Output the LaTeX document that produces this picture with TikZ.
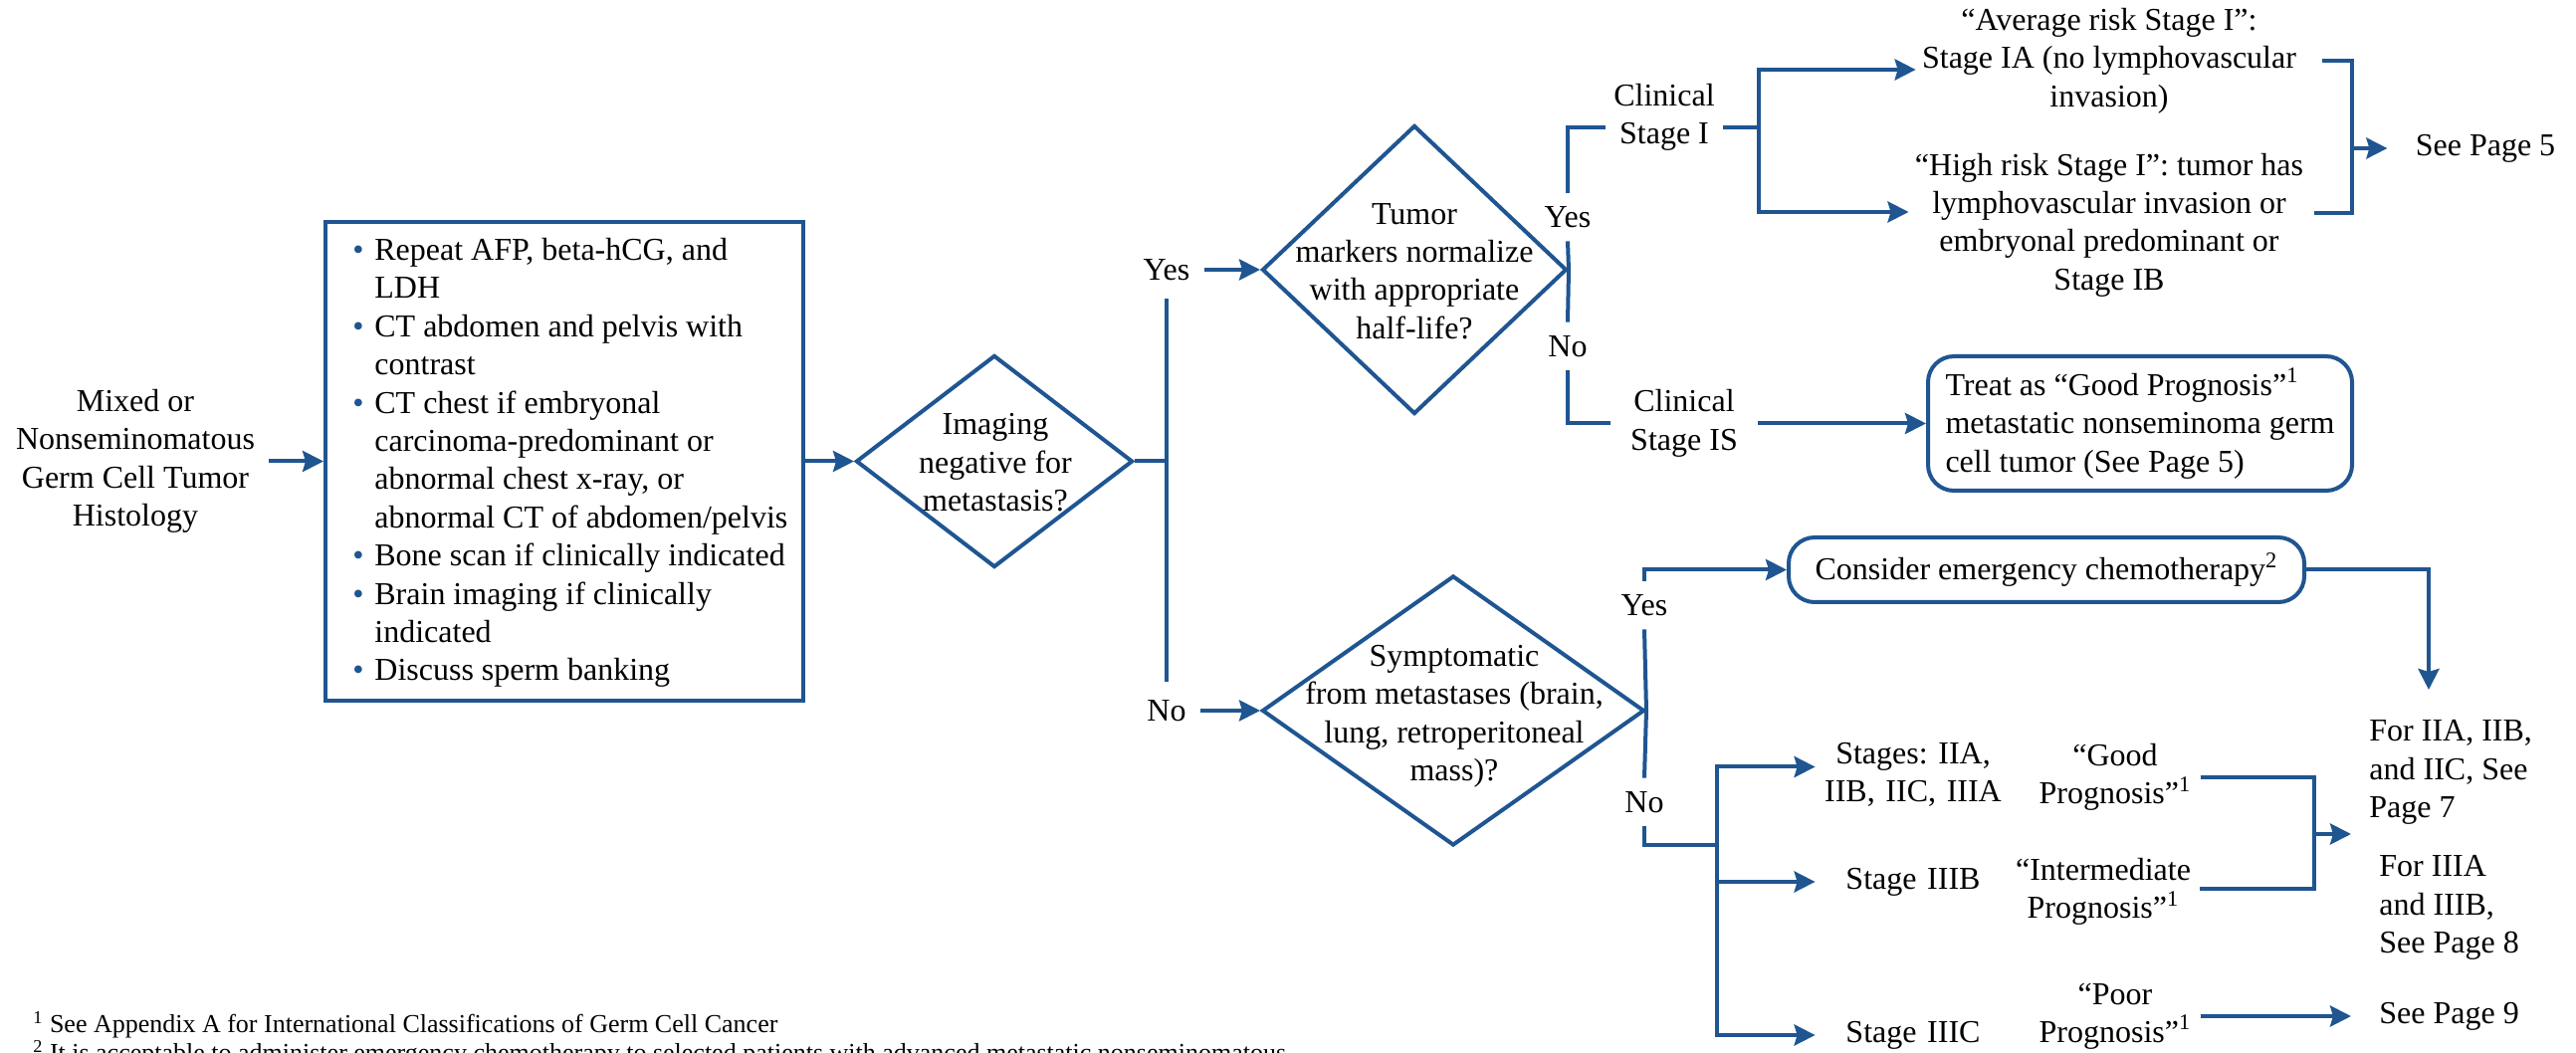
\documentclass[tikz,border=0pt]{standalone}
\usepackage{fontspec}
\setmainfont{Liberation Serif}
\usetikzlibrary{arrows.meta,shapes.geometric,calc}
\definecolor{nccn}{HTML}{1F5591}
\frenchspacing
\newcommand\mainsize{\fontsize{16}{19.2}\selectfont}
\newcommand\notesize{\fontsize{13}{14.5}\selectfont}
\newcommand\blt{\makebox[11pt][l]{\textcolor{nccn}{•}}}

\begin{document}
\begin{tikzpicture}[x=0.5pt,y=-0.5pt,
  ln/.style={draw=nccn, line width=2pt},
  arr/.style={ln, -{Stealth[length=10.5pt,width=10.5pt,inset=1.5pt]}},
  txt/.style={align=center, font=\mainsize, inner sep=0pt},
  flag/.style={txt, minimum height=24pt, inner xsep=7pt},
  flagtall/.style={flag, minimum height=29pt},
  dia/.style={diamond, draw=nccn, line width=2pt, inner sep=0pt},
  sqbox/.style={rectangle, draw=nccn, line width=2pt, inner sep=0pt},
  rbox/.style={rectangle, rounded corners=13pt, draw=nccn, line width=2pt,
    font=\mainsize, align=left, inner sep=0pt},
  stagetxt/.style={txt, text width=98pt},
  pagetxt/.style={anchor=west, align=left, font=\mainsize, inner ysep=0pt},
  note/.style={anchor=base west, inner sep=0pt, font=\notesize},
]
\useasboundingbox (0,0) rectangle (2588,1058);
\fill[white] (0,0) rectangle (2588,1058);

% ---- entry and work-up ----
\node[txt, inner xsep=7pt] (start) at (136,463.5)
  {Mixed or\\Nonseminomatous\\Germ Cell Tumor\\Histology};
\node[sqbox, minimum width=240pt, minimum height=240.5pt] (workup) at (567,463.5) {};
\node[anchor=west, inner sep=0pt, font=\mainsize] (worklist) at (354,465) {%
\begin{minipage}{230pt}
\parindent=0pt\parskip=0pt
\hangindent=11pt\hangafter=1\blt Repeat AFP, beta-hCG, and\\LDH\par
\hangindent=11pt\hangafter=1\blt CT abdomen and pelvis with\\contrast\par
\hangindent=11pt\hangafter=1\blt CT chest if embryonal\\carcinoma-predominant or\\abnormal chest x-ray, or\\abnormal CT of abdomen/pelvis\par
\hangindent=11pt\hangafter=1\blt Bone scan if clinically indicated\par
\hangindent=11pt\hangafter=1\blt Brain imaging if clinically\\indicated\par
\hangindent=11pt\hangafter=1\blt Discuss sperm banking\par
\end{minipage}};
\draw[arr] (start.east) -- (workup.west);

% ---- imaging decision ----
\node[dia, minimum width=139pt, minimum height=106.5pt] (imaging) at (999,463.5) {};
\node[txt] (imagingq) at (1000,465) {Imaging\\negative for\\metastasis?};
\draw[arr] (workup.east) -- (imaging.west);

\node[flagtall] (yes1) at (1172,271) {Yes};
\node[flagtall] (no1) at (1172,714) {No};
\coordinate (split1) at (1172,463.5);
\draw[ln] (imaging.east) -- (split1);
\draw[ln] (yes1.south) -- (no1.north);

% ---- tumor marker decision ----
\node[dia, minimum width=153pt, minimum height=145pt] (tumor) at (1421,271) {};
\node[txt] (tumorq) at (1421,272.5) {Tumor\\markers normalize\\with appropriate\\half-life?};
\draw[arr] (yes1.east) -- (tumor.west);

\node[flag] (yes2) at (1575,218) {Yes};
\node[flag] (no2) at (1575,348) {No};
\draw[ln] (tumor.east) -- (yes2.south);
\draw[ln] (tumor.east) -- (no2.north);

\node[txt, inner xsep=4pt] (cs1) at (1672,118) {Clinical\\Stage I};
\draw[ln] (yes2.north) |- ([yshift=-5pt]cs1.west);
\coordinate (fork1) at (1767,128);
\draw[ln] ([yshift=-5pt]cs1.east) -- (fork1);

\node[txt, inner xsep=3pt] (avgrisk) at (2119,61)
  {“Average risk Stage I”:\\Stage IA (no lymphovascular\\invasion)};
\node[txt, inner xsep=3pt] (highrisk) at (2119,226)
  {“High risk Stage I”: tumor has\\lymphovascular invasion or\\embryonal predominant or\\Stage IB};
\draw[arr] (fork1) |- ([yshift=-4.5pt]avgrisk.west);
\draw[arr] (fork1) |- ([yshift=6.5pt]highrisk.west);

\coordinate (join1) at (2363,149);
\node[pagetxt, anchor=center, inner xsep=14pt] (seep5) at (2497,149) {See Page 5};
\draw[ln] ([xshift=10pt]avgrisk.east) -| (join1);
\draw[ln] ([shift={(2.5pt,6pt)}]highrisk.east) -| (join1);
\draw[arr] (join1) -- (seep5.west);

\node[txt, inner xsep=10pt] (cs2) at (1692,425.5) {Clinical\\Stage IS};
\draw[ln] (no2.south) |- (cs2.west);
\node[rbox, minimum width=213pt, minimum height=67.5pt] (treat) at (2150,425.5)
  {Treat as “Good Prognosis”\textsuperscript{1}\\metastatic nonseminoma germ\\cell tumor (See Page 5)};
\draw[arr] (cs2.east) -- (treat.west);

% ---- symptomatic decision ----
\node[dia, minimum width=192pt, minimum height=135.5pt] (sympt) at (1460,714) {};
\node[txt] (symptq) at (1461,720)
  {Symptomatic\\from metastases (brain,\\lung, retroperitoneal\\mass)?};
\draw[arr] (no1.east) -- (sympt.west);

\node[flag] (yes3) at (1652,608) {Yes};
\node[flag] (no3) at (1652,806) {No};
\draw[ln] (sympt.east) -- (yes3.south);
\draw[ln] (sympt.east) -- (no3.north);

\node[rbox, align=center, minimum width=259pt, minimum height=32.5pt] (chemo) at (2056,572.5)
  {Consider emergency chemotherapy\textsuperscript{2}};
\draw[arr] (yes3.north) |- (chemo.west);
\coordinate (chemoDown) at (2440,693);
\draw[arr] (chemo.east) -| (chemoDown);

\coordinate (fork2) at (1725,849);
\draw[ln] (no3.south) |- (fork2);
\node[stagetxt] (stA) at (1922,778.5) {Stages: IIA,\\IIB, IIC, IIIA};
\node[stagetxt] (stB) at (1922,886) {Stage IIIB};
\node[stagetxt] (stC) at (1922,1040) {Stage IIIC};
\draw[arr] (fork2) |- ([yshift=4pt]stA.west);
\draw[arr] (fork2) |- (stB.west);
\draw[arr] (fork2) |- (stC.west);

\node[txt, inner xsep=4.5pt] (pgGood) at (2125,781) {“Good\\Prognosis”\textsuperscript{1}};
\node[txt, inner xsep=4.5pt] (pgInt) at (2113,896) {“Intermediate\\Prognosis”\textsuperscript{1}};
\node[txt, inner xsep=4.5pt] (pgPoor) at (2125,1021) {“Poor\\Prognosis”\textsuperscript{1}};

\node[pagetxt, inner xsep=9pt] (forA) at (2362,776) {For IIA, IIB,\\and IIC, See\\Page 7};
\node[pagetxt, inner xsep=14pt] (forB) at (2362,912) {For IIIA\\and IIIB,\\See Page 8};
\node[pagetxt, inner xsep=14pt] (seep9) at (2362,1021) {See Page 9};

\coordinate (join2) at (2325,838);
\draw[ln] (pgGood.east) -| (join2);
\draw[ln] ([yshift=1.5pt]pgInt.east) -| (join2);
\draw[arr] (join2) -- (join2 -| forA.west);
\draw[arr] (pgPoor.east) -- (seep9.west);

% ---- footnotes ----
\node[note] (note1) at (33,1037)
  {\textsuperscript{1} See Appendix A for International Classifications of Germ Cell Cancer};
\node[note] (note2) at (33,1066)
  {\textsuperscript{2} It is acceptable to administer emergency chemotherapy to selected patients with advanced metastatic nonseminomatous};
\end{tikzpicture}
\end{document}
